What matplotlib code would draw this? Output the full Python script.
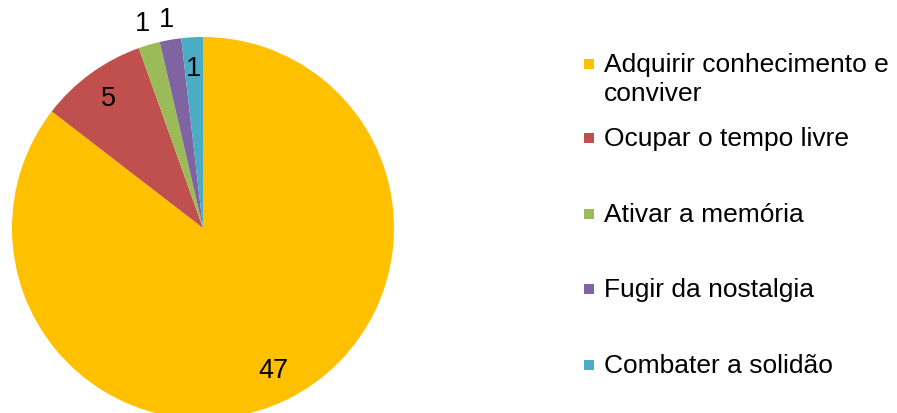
import matplotlib.pyplot as plt
from matplotlib.patches import Rectangle
import numpy as np

plt.rcParams['font.family'] = ['Liberation Sans', 'DejaVu Sans']

categories = ["Adquirir conhecimento e\nconviver", "Ocupar o tempo livre",
              "Ativar a memória", "Fugir da nostalgia", "Combater a solidão"]
values = [47, 5, 1, 1, 1]
colors = ["#FFC000", "#C0504D", "#9BBB59", "#8064A2", "#4BACC6"]
# label inside the slice or just outside it
label_radius = [0.83, 0.84, 1.12, 1.11, 0.84]

W, H = 897, 414
fig = plt.figure(figsize=(W / 100, H / 100), dpi=100)

cx, cy, r = 203, 229, 191
ax = fig.add_axes([(cx - r) / W, (H - cy - r) / H, 2 * r / W, 2 * r / H])
ax.pie(values, colors=colors, startangle=90, counterclock=False,
       wedgeprops=dict(linewidth=0))
ax.set_xlim(-1, 1)
ax.set_ylim(-1, 1)
ax.set_aspect("equal")
ax.axis("off")

total = sum(values)
start = 90.0
for v, lr in zip(values, label_radius):
    span = v / total * 360
    mid = np.radians(start - span / 2)
    ax.text(lr * np.cos(mid), lr * np.sin(mid), str(v), ha="center",
            va="center", fontsize=19.5, clip_on=False)
    start -= span

# legend drawn by hand
leg_y = [65, 139, 215, 290, 366]
for name, c, y in zip(categories, colors, leg_y):
    fig.patches.append(Rectangle((584 / W, (H - y - 5) / H), 10 / W, 10 / H,
                                 transform=fig.transFigure, facecolor=c,
                                 edgecolor="none"))
    for i, line in enumerate(name.split("\n")):
        fig.text(604 / W, (H - y - 29 * i) / H, line, ha="left", va="center",
                 fontsize=19)

fig.savefig("out.png", dpi=100, facecolor="white")
